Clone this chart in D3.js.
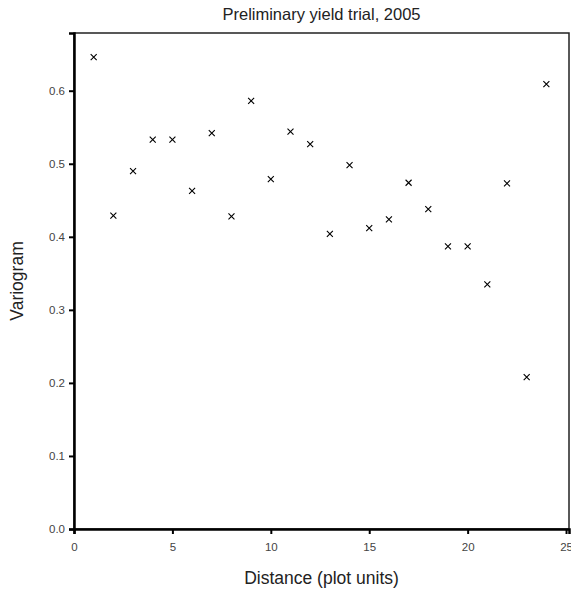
<!DOCTYPE html>
<html><head><meta charset="utf-8">
<script src="https://cdn.jsdelivr.net/npm/d3@7"></script>
<style>body{margin:0;background:#fff;} svg{display:block;font-family:"Liberation Sans",Arial,sans-serif;}</style>
</head><body>
<script>
const distances = [1,2,3,4,5,6,7,8,9,10,11,12,13,14,15,16,17,18,19,20,21,22,23,24];
const variogram = [0.646,0.429,0.490,0.533,0.533,0.463,0.542,0.428,0.586,0.479,0.544,0.527,0.404,0.498,0.412,0.424,0.474,0.438,0.387,0.387,0.335,0.473,0.208,0.609];
const xTicks = [0,5,10,15,20,25];
const yTicks = [0,0.1,0.2,0.3,0.4,0.5,0.6];
const title = "Preliminary yield trial, 2005";
const xLabel = "Distance (plot units)";
const yLabel = "Variogram";

const W = 571, H = 590;
const m = {left:74, right:2, top:33, bottom:61};
const svg = d3.select("body").append("svg").attr("width",W).attr("height",H);
const x = d3.scaleLinear().domain([0,25.15]).range([m.left, W-m.right]);
const y = d3.scaleLinear().domain([0,0.679]).range([H-m.bottom, m.top]);

// frame
svg.append("rect").attr("x",m.left).attr("y",m.top)
  .attr("width",W-m.right-m.left).attr("height",H-m.bottom-m.top)
  .attr("fill","none").attr("stroke","#222").attr("stroke-width",1.5);

const xa = svg.append("g").attr("transform",`translate(0,${H-m.bottom})`)
  .call(d3.axisBottom(x).tickValues(xTicks).tickFormat(d3.format("d")).tickSize(5).tickPadding(9));
const ya = svg.append("g").attr("transform",`translate(${m.left},0)`)
  .call(d3.axisLeft(y).tickValues(yTicks).tickFormat(d3.format(".1f")).tickSize(5).tickPadding(4));
[xa,ya].forEach(a=>{
  a.select(".domain").attr("stroke","#000").attr("stroke-width",2.5);
  a.selectAll(".tick line").attr("stroke","#000").attr("stroke-width",2);
  a.selectAll(".tick text").attr("fill","#444").style("font-size","11.5px");
});

// points as crosses
const s = 3;
const g = svg.append("g");
distances.forEach((d,i)=>{
  const cx = x(d), cy = y(variogram[i]);
  g.append("path").attr("d",`M${cx-s},${cy-s}L${cx+s},${cy+s}M${cx-s},${cy+s}L${cx+s},${cy-s}`)
   .attr("stroke","#000").attr("stroke-width",1.1).attr("fill","none");
});

svg.append("text").attr("x",(m.left+W-m.right)/2).attr("y",20).attr("text-anchor","middle")
  .style("font-size","16.5px").attr("fill","#222").text(title);
svg.append("text").attr("x",(m.left+W-m.right)/2).attr("y",584).attr("text-anchor","middle")
  .style("font-size","17.5px").attr("fill","#222").text(xLabel);
svg.append("text").attr("transform",`translate(23,${(m.top+H-m.bottom)/2}) rotate(-90)`)
  .attr("text-anchor","middle").style("font-size","17.5px").attr("fill","#222").text(yLabel);
</script>
</body></html>
